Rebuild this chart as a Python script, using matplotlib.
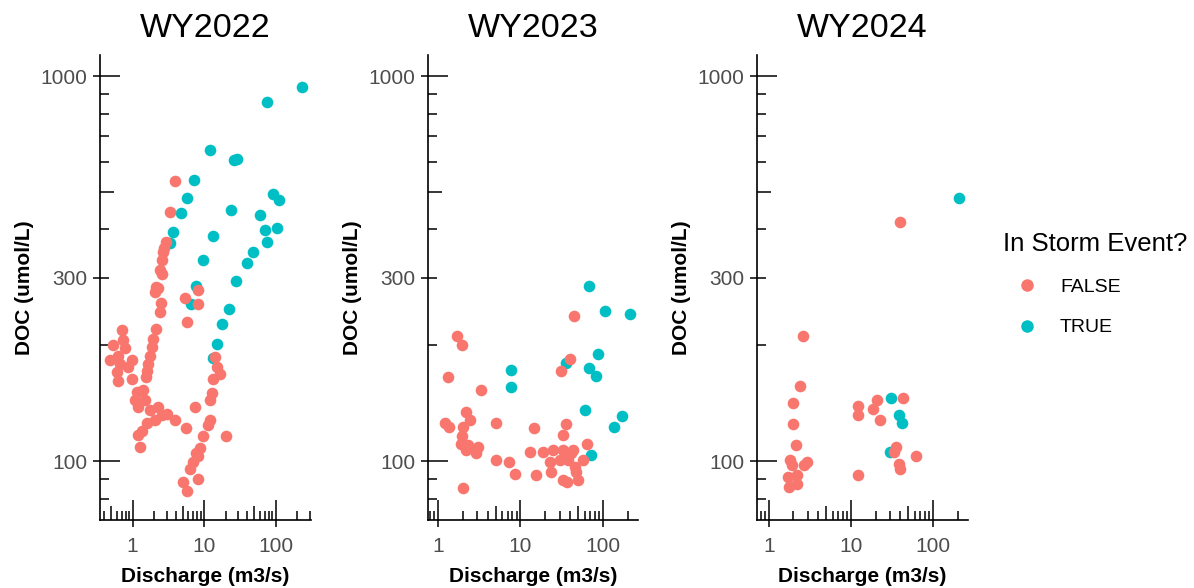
import numpy as np
import matplotlib
matplotlib.use("Agg")
import matplotlib.pyplot as plt
from matplotlib.lines import Line2D
from matplotlib.ticker import NullLocator, FixedLocator, FixedFormatter

plt.rcParams['font.family'] = ['Liberation Sans', 'DejaVu Sans']

# ---- data (discharge m3/s, DOC umol/L) ----
q22_true = [231, 74.8, 12.1, 28.5, 26.1, 7.27, 5.8, 4.69, 3.70, 3.36, 23.5, 13.4, 9.71, 7.76,
            6.47, 27.8, 39.3, 48.6, 22.0, 17.7, 15.0, 13.4, 90.8, 112, 60.3, 71.6, 105, 76.3]
doc22_true = [938, 855, 645, 611, 605, 537, 483, 440, 395, 369, 449, 384, 333, 285,
              256, 294, 328, 350, 249, 227, 202, 186, 493, 477, 435, 398, 404, 371]

q22_false = [3.91, 3.32, 2.92, 2.78, 2.65, 2.54, 2.41, 2.57, 2.12, 2.05, 2.26, 2.49, 2.41, 5.8,
             5.39, 8.27, 8.27, 0.70, 2.12, 0.739, 0.535, 0.78, 0.481, 0.629, 0.968, 0.664, 0.868,
             0.598, 0.968, 0.629, 1.94, 1.84, 1.75, 1.65, 1.57, 1.53, 1.14, 1.41, 1.08, 1.49,
             1.20, 1.75, 2.28, 2.54, 2.05, 3.91, 1.57, 1.34, 1.20, 1.26, 2.99, 14.2, 15.0, 16.6,
             13.4, 12.7, 12.1, 7.43, 12.1, 11.4, 5.56, 20.2, 9.71, 8.73, 8.27, 7.04, 6.33, 8.27,
             5.10, 5.69, 7.68]
doc22_false = [535, 444, 371, 359, 349, 333, 313, 306, 284, 275, 281, 257, 244, 230,
               266, 278, 256, 219, 221, 206, 200, 197, 183, 188, 183, 179, 176,
               171, 164, 162, 208, 198, 188, 179, 172, 166, 151, 153, 144, 144,
               138, 136, 138, 132, 128, 128, 126, 120, 117, 109, 133, 187, 176, 169,
               164, 150, 144, 138, 128, 124, 122, 116, 116, 108, 103, 99.6, 95.7, 90.2,
               88.4, 83.7, 105]

q23_true = [67.7, 105, 210, 7.74, 7.74, 35.9, 87, 67.7, 83, 60, 172, 135, 72.2]
doc23_true = [285, 246, 241, 173, 156, 180, 190, 175, 167, 136, 131, 123, 104]

q23_false = [44.5, 39.5, 31.3, 1.71, 1.97, 1.33, 3.29, 1.20, 1.36, 2.16, 2.42, 2.01, 1.97, 1.92,
             2.31, 2.20, 3.05, 2.92, 2.01, 5.10, 5.0, 7.25, 8.5, 14.4, 12.9, 15.3, 35.9, 32.7,
             18.7, 24.8, 32.7, 43.3, 22.6, 29.9, 37.7, 45.4, 23.6, 32.7, 36.6, 49.8, 47.5, 57.2,
             64, 41.3]
doc23_false = [238, 184, 172, 212, 200, 166, 153, 126, 123, 134, 128, 123, 116, 111,
               110, 107, 109, 105, 85.4, 126, 101, 99.6, 92.9, 122, 106, 91.9, 125, 117,
               106, 107, 107, 107, 99.6, 101, 101, 96.7, 93.8, 89.3, 88.1, 89.6, 93.8, 101,
               111, 105]

q24_true = [30.4, 38.7, 41.3, 29.9, 205]
doc24_true = [146, 132, 126, 106, 483]

q24_false = [2.61, 2.38, 1.97, 1.97, 2.16, 1.80, 1.92, 2.92, 2.71, 1.70, 2.20, 1.75, 2.20,
             12.3, 12.3, 12.3, 20.6, 18.7, 22.6, 43.3, 35.3, 33.4, 38.7, 39.5, 62.8, 39.5]
doc24_false = [212, 157, 142, 125, 110, 101, 97.6, 99.6, 97.6, 91.0, 91.9, 85.8, 87.5,
               91.9, 139, 132, 144, 137, 128, 146, 109, 106, 98.6, 95.7, 103, 417]

years = ['WY2022', 'WY2023', 'WY2024']
panels = [(q22_true, doc22_true, q22_false, doc22_false),
          (q23_true, doc23_true, q23_false, doc23_false),
          (q24_true, doc24_true, q24_false, doc24_false)]
xlims = [(0.349, 312), (0.757, 266), (0.72, 266)]
ylim = (70.4, 1135)

col_false = '#F8766D'
col_true = '#00BFC4'

W, H = 1194, 588
fig = plt.figure(figsize=(W / 100, H / 100), dpi=100)

lefts = [100, 428, 757]
widths = [211, 210, 211]
top_px, bot_px = 55, 520


def logticks(ax, lo, hi, which):
    # annotation_logticks style: long at 10^k, mid at 5*10^k, short otherwise
    for k in range(int(np.floor(np.log10(lo))), int(np.ceil(np.log10(hi))) + 1):
        for m in range(1, 10):
            v = m * 10.0 ** k
            if v < lo or v > hi:
                continue
            ln = 14.5 if m == 1 else (10 if m == 5 else 6.5)
            if which == 'y':
                ax.plot([0], [v], marker=1, ms=ln, mew=1.1, color='black',
                        transform=ax.get_yaxis_transform(), clip_on=False)
            else:
                ax.plot([v], [0], marker=2, ms=ln, mew=1.1, color='black',
                        transform=ax.get_xaxis_transform(), clip_on=False)


for i in range(3):
    qt, dt, qf, df = panels[i]
    ax = fig.add_axes([lefts[i] / W, 1 - bot_px / H, widths[i] / W, (bot_px - top_px) / H])
    ax.scatter(qt, dt, s=70, color=col_true, linewidths=0, zorder=3)
    ax.scatter(qf, df, s=70, color=col_false, linewidths=0, zorder=3)
    ax.set_xscale('log')
    ax.set_yscale('log')
    ax.set_xlim(*xlims[i])
    ax.set_ylim(*ylim)

    ax.xaxis.set_major_locator(FixedLocator([1, 10, 100]))
    ax.xaxis.set_major_formatter(FixedFormatter(['1', '10', '100']))
    ax.yaxis.set_major_locator(FixedLocator([100, 300, 1000]))
    ax.yaxis.set_major_formatter(FixedFormatter(['100', '300', '1000']))
    ax.xaxis.set_minor_locator(NullLocator())
    ax.yaxis.set_minor_locator(NullLocator())
    ax.tick_params(direction='out', length=5, width=1.1, color='black',
                   labelcolor='#4D4D4D', labelsize=15)
    ax.tick_params(axis='y', pad=4)
    ax.tick_params(axis='x', pad=7)

    for s in ['top', 'right']:
        ax.spines[s].set_visible(False)
    for s in ['left', 'bottom']:
        ax.spines[s].set_linewidth(1.2)
        ax.spines[s].set_color('black')

    logticks(ax, *xlims[i], 'x')
    logticks(ax, *ylim, 'y')

    ax.set_title(years[i], fontsize=24.5, y=1.039, pad=0)
    ax.set_xlabel('Discharge (m3/s)', fontsize=15, fontweight='bold')
    ax.set_ylabel('DOC (umol/L)', fontsize=15, fontweight='bold')
    ax.xaxis.set_label_coords(0.5, -0.1)
    ax.yaxis.set_label_coords(-66 / widths[i], 0.5)

handles = [Line2D([], [], ls='none', marker='o', ms=9, color=col_false, mew=0),
           Line2D([], [], ls='none', marker='o', ms=9, color=col_true, mew=0)]
fig.legend(handles, ['FALSE', 'TRUE'], title='In Storm Event?', loc='upper left',
           bbox_to_anchor=(993 / W, 1 - 222 / H), frameon=False, fontsize=14,
           title_fontsize=18.5, alignment='left', handletextpad=0.45, labelspacing=1.17,
           borderpad=0, handlelength=2.5)

fig.savefig('out.png', dpi=100)
